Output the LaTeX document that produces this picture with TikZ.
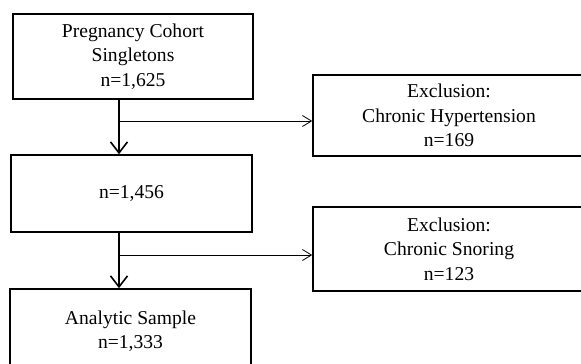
\documentclass[tikz,border=0pt]{standalone}
\usepackage{fontspec}
\setmainfont{Liberation Serif}
\usetikzlibrary{arrows.meta}

\begin{document}
\begin{tikzpicture}[x=1pt,y=-1pt,
		box/.style={draw, line width=1.6pt, align=center, inner sep=0pt,
			font=\fontsize{19.6}{24.5}\selectfont},
		mainarrow/.style={line width=1.6pt, -{Straight Barb[length=11pt,width=17pt,line width=1.6pt]}},
		sidearrow/.style={line width=0.8pt, -{Straight Barb[length=9pt,width=11pt,line width=0.8pt]}}]
			\useasboundingbox (0,0) rectangle (581,364);
			
			\newcommand{\LeftW}{241}
			\newcommand{\RightW}{272}
			
			\node[box, minimum width=240, minimum height=85] (cohort) at (133,56.5)
				{Pregnancy Cohort\\Singletons\\n=1,625};
			\node[box, minimum width=\LeftW, minimum height=77] (remain) at (131.5,193.5)
				{n=1,456};
			\node[box, minimum width=\LeftW, minimum height=84] (sample) at (130.5,331)
				{Analytic Sample\\n=1,333};
			\node[box, minimum width=\RightW, minimum height=81] (hyper) at (449,115.5)
				{Exclusion:\\Chronic Hypertension\\n=169};
			\node[box, minimum width=\RightW, minimum height=84] (snore) at (449,249)
				{Exclusion:\\Chronic Snoring\\n=123};
			
			\coordinate (split1) at (119,121);% first branch
			\coordinate (split2) at (119,255);% second branch
			
			\draw[mainarrow] (cohort.south -| split1) -- (remain.north -| split1);
			\draw[sidearrow] (split1) -- (split1 -| hyper.west);
			\draw[mainarrow] (remain.south -| split2) -- (sample.north -| split2);
			\draw[sidearrow] (split2) -- (split2 -| snore.west);
		\end{tikzpicture}
\end{document}
